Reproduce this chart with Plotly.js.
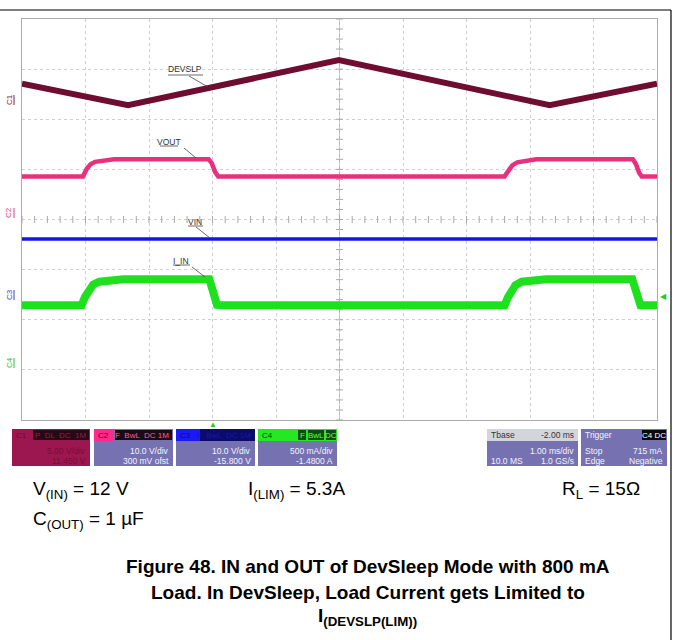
<!DOCTYPE html>
<html><head><meta charset="utf-8">
<script src="https://cdn.plot.ly/plotly-3.0.1.min.js"></script>
<style>body{margin:0;background:#fff}#chart{width:673px;height:640px}</style>
</head><body><div id="chart"></div>
<script>
// ---- data: time in ms (trigger at 0), amplitude in screen divisions ----
const timeRange = [-3, 7];
const divRange = [-4, 4];

const devslpT = [-3.0, -1.33, 1.99, 5.31, 7.0];
const devslpY = [2.71, 2.28, 3.18, 2.28, 2.71];

const voutT = [-3.0, -2.04, -1.98, -1.92, -1.85, -1.72, -1.55, -0.06, -0.01, 0.04, 0.09, 4.60, 4.66, 4.72, 4.80, 4.92, 5.10, 6.62, 6.67, 6.72, 6.76, 7.0];
const voutY = [0.86, 0.86, 1.01, 1.10, 1.15, 1.18, 1.20, 1.20, 1.12, 0.95, 0.86, 0.86, 0.97, 1.08, 1.14, 1.17, 1.20, 1.20, 1.10, 0.93, 0.86, 0.86];

const vinT = [-3.0, 7.0];
const vinY = [-0.39, -0.39];

const iinT = [-3.0, -2.06, -2.01, -1.95, -1.88, -1.78, -1.62, -1.40, -0.05, -0.02, 0.02, 0.07, 0.14, 4.60, 4.65, 4.70, 4.77, 4.87, 5.02, 5.25, 6.61, 6.65, 6.69, 6.74, 7.0];
const iinY = [-1.71, -1.71, -1.55, -1.40, -1.30, -1.24, -1.21, -1.19, -1.19, -1.30, -1.52, -1.70, -1.71, -1.71, -1.56, -1.42, -1.31, -1.24, -1.21, -1.19, -1.19, -1.32, -1.55, -1.71, -1.71];

const traceLabels = ['DEVSLP', 'VOUT', 'VIN', 'I_IN'];
const channelNames = ['C1', 'C2', 'C3', 'C4'];

// ---- helpers ----
const W = 673, H = 640;
const px = x => x / W, py = y => 1 - y / H;
const FONT = 'Liberation Sans, Arial, sans-serif';

const shapes = [];
const ann = [];
function line(x0, y0, x1, y1, color, width, dash) {
  shapes.push({type: 'line', xref: 'paper', yref: 'paper', x0: px(x0), y0: py(y0), x1: px(x1), y1: py(y1),
    line: {color: color, width: width || 1, dash: dash || 'solid'}});
}
function rect(x0, y0, x1, y1, fill) {
  shapes.push({type: 'rect', xref: 'paper', yref: 'paper', x0: px(x0), y0: py(y0), x1: px(x1), y1: py(y1),
    line: {width: 0}, fillcolor: fill});
}
function txt(x, y, s, size, color, xa, extra, family) {
  ann.push(Object.assign({xref: 'paper', yref: 'paper', x: px(x), y: py(y), text: s, showarrow: false,
    xanchor: xa || 'left', yanchor: 'middle', font: {family: family || FONT, size: size, color: color}}, extra || {}));
}

// outer border (top and right)
line(0, 10, 671, 10, '#000', 1.2);
line(671, 10, 671, 645, '#000', 1.2);

// centre lines of graticule (data coords)
shapes.push({type: 'line', xref: 'x', yref: 'y', x0: 2, x1: 2, y0: divRange[0], y1: divRange[1], layer: 'below', line: {color: '#b5b5b5', width: 1}});
shapes.push({type: 'line', xref: 'x', yref: 'y', x0: timeRange[0], x1: timeRange[1], y0: 0, y1: 0, layer: 'below', line: {color: '#c0c0c0', width: 1, dash: 'dot'}});

// minor tick marks on the centre lines
const tickX = [], tickY = [];
for (let t = timeRange[0]; t <= timeRange[1] + 1e-9; t += 0.2) { tickX.push(t); }
for (let d = divRange[0]; d <= divRange[1] + 1e-9; d += 0.2) { tickY.push(d); }

// trace labels with underline + leader line
const labelPos = [[185, 69, 168, 203, 75, 189, 76, 208, 87], [169, 142, 160, 178, 146, 184, 148, 196, 158],
                  [195, 222, 188, 203, 226, 196, 227, 210, 238], [181, 261, 173, 190, 265, 192, 267, 205, 277]];
traceLabels.forEach((l, i) => {
  const p = labelPos[i];
  txt(p[0], p[1], l, 8.5, '#333', 'center', null, 'Liberation Sans Narrow, Liberation Sans, Arial');
  line(p[2], p[4], p[3], p[4], '#444', 0.8);
  line(p[5], p[6], p[7], p[8], '#444', 0.8);
});

// channel ground markers on the left
const chColors = ['#8b1a45', '#e23a84', '#3b3bd0', '#2ec02e'];
const chY = [100, 213, 295, 363];
channelNames.forEach((c, i) => {
  txt(9, chY[i], c, 8, chColors[i], 'center', {textangle: -90});
  line(14, chY[i] + 5, 14, chY[i] - 5, chColors[i], 1);
});
// trigger markers
txt(663, 296, '◀', 8, '#22cc22', 'center');
txt(213, 424, '▲', 8, '#22cc22', 'center');

// ---- channel descriptor boxes ----
const LAV = '#7672b2', TW = '#f2f2ff';
const by0 = 429, by1 = 466, hy = 441;
// C1
rect(12, by0, 90, by1, '#9c1750');
rect(33, by0 + 1, 89, hy - 1, '#2a0916');
txt(88, 435, 'P  DL  DC  1M', 8, '#8a2048', 'right');
txt(88, 451, '5.00 V/div', 8.5, '#7a0c35', 'right');
txt(88, 461, '11.450 V', 8.5, '#7a0c35', 'right');
txt(14, 435, 'C1', 8, '#6a0c30');
// C2
rect(94, by0, 173, by1, LAV);
rect(94, by0, 114, hy, '#ff2a8c');
rect(115, by0 + 1, 172, hy - 1, '#1c0912');
txt(96, 435, 'C2', 8, '#5a0028');
txt(171, 435, 'F  BwL  DC 1M', 8, '#ff5aa0', 'right');
txt(171, 451, '10.0 V/div', 8.5, TW, 'right');
txt(171, 461, '300 mV ofst', 8.5, TW, 'right');
// C3
rect(176, by0, 255, by1, LAV);
rect(176, by0, 200, hy, '#1a1af5');
rect(200, by0, 255, hy, '#0b0b6e');
txt(178, 435, 'C3', 8, '#0a0a80');
txt(253, 435, 'F  BwL  DC 1M', 8, '#1a1a9a', 'right');
txt(253, 451, '10.0 V/div', 8.5, TW, 'right');
txt(253, 461, '-15.800 V', 8.5, TW, 'right');
// C4
rect(258, by0, 337, by1, LAV);
rect(258, by0, 337, hy, '#25e825');
rect(298, by0 + 1, 306, hy - 1, '#0b4d0b');
rect(308, by0 + 1, 324, hy - 1, '#0b4d0b');
rect(326, by0 + 1, 336, hy - 1, '#0b4d0b');
txt(260, 435, 'C4', 8, '#0a4a0a');
txt(302, 435, 'F', 8, '#5cff5c', 'center');
txt(316, 435, 'BwL', 8, '#5cff5c', 'center');
txt(331, 435, 'DC', 8, '#5cff5c', 'center');
txt(335, 451, '500 mA/div', 8.5, TW, 'right');
txt(335, 461, '-1.4800 A', 8.5, TW, 'right');
// Tbase
rect(487, by0, 578, by1, LAV);
rect(487, by0, 578, hy, '#d4d4dc');
txt(489, 435, 'Tbase', 8.5, '#333');
txt(576, 435, '-2.00 ms', 8.5, '#333', 'right');
txt(576, 451, '1.00 ms/div', 8.5, TW, 'right');
txt(489, 461, '10.0 MS', 8.5, TW);
txt(576, 461, '1.0 GS/s', 8.5, TW, 'right');
// Trigger
rect(581, by0, 667, by1, LAV);
rect(642, by0 + 1, 666, hy - 1, '#0a0a0a');
txt(583, 435, 'Trigger', 8.5, TW);
txt(654, 435, 'C4 DC', 8, '#ffffff', 'center');
txt(583, 451, 'Stop', 8.5, TW);
txt(665, 451, '715 mA', 8.5, TW, 'right');
txt(583, 461, 'Edge', 8.5, TW);
txt(665, 461, 'Negative', 8.5, TW, 'right');

// ---- conditions and caption ----
txt(31, 490, 'V<sub>(IN)</sub> = 12 V', 19, '#000');
txt(246, 490, 'I<sub>(LIM)</sub> = 5.3A', 19, '#000');
txt(560, 490, 'R<sub>L</sub> = 15Ω', 19, '#000');
txt(31, 520, 'C<sub>(OUT)</sub> = 1 µF', 19, '#000');
txt(368, 566, '<b>Figure 48. IN and OUT of DevSleep Mode with 800 mA</b>', 19, '#000', 'center');
txt(368, 592, '<b>Load. In DevSleep, Load Current gets Limited to</b>', 19, '#000', 'center');
txt(368, 617, '<b>I<sub>(DEVSLP(LIM))</sub></b>', 19, '#000', 'center');

const traces = [
  {x: tickX, y: tickX.map(() => 0), mode: 'markers', marker: {symbol: 'line-ns', size: 5, line: {color: '#a8a8a8', width: 1}}, hoverinfo: 'skip'},
  {x: tickY.map(() => 2), y: tickY, mode: 'markers', marker: {symbol: 'line-ew', size: 5, line: {color: '#a8a8a8', width: 1}}, hoverinfo: 'skip'},
  {x: vinT, y: vinY, name: traceLabels[2], mode: 'lines', line: {color: '#1414e6', width: 3.5}},
  {x: iinT, y: iinY, name: traceLabels[3], mode: 'lines', line: {color: '#1fe01f', width: 8}},
  {x: voutT, y: voutY, name: traceLabels[1], mode: 'lines', line: {color: '#e8307c', width: 4.5}},
  {x: devslpT, y: devslpY, name: traceLabels[0], mode: 'lines', line: {color: '#6e0d30', width: 6}}
];

const layout = {
  width: W, height: H, margin: {l: 0, r: 0, t: 0, b: 0},
  paper_bgcolor: '#fff', plot_bgcolor: '#fff', showlegend: false,
  xaxis: {domain: [px(22), px(657)], range: timeRange, dtick: 1, tick0: 0, showgrid: true, gridcolor: '#cfcfcf',
    griddash: '3px,3px', zeroline: false, showline: true, mirror: true, linecolor: '#ababab', linewidth: 1,
    showticklabels: false, ticks: '', fixedrange: true},
  yaxis: {domain: [py(420), py(19)], range: divRange, dtick: 1, tick0: 0, showgrid: true, gridcolor: '#cfcfcf',
    griddash: '3px,3px', zeroline: false, showline: true, mirror: true, linecolor: '#ababab', linewidth: 1,
    showticklabels: false, ticks: '', fixedrange: true},
  shapes: shapes, annotations: ann
};
Plotly.newPlot('chart', traces, layout, {staticPlot: true, displayModeBar: false});
</script></body></html>
